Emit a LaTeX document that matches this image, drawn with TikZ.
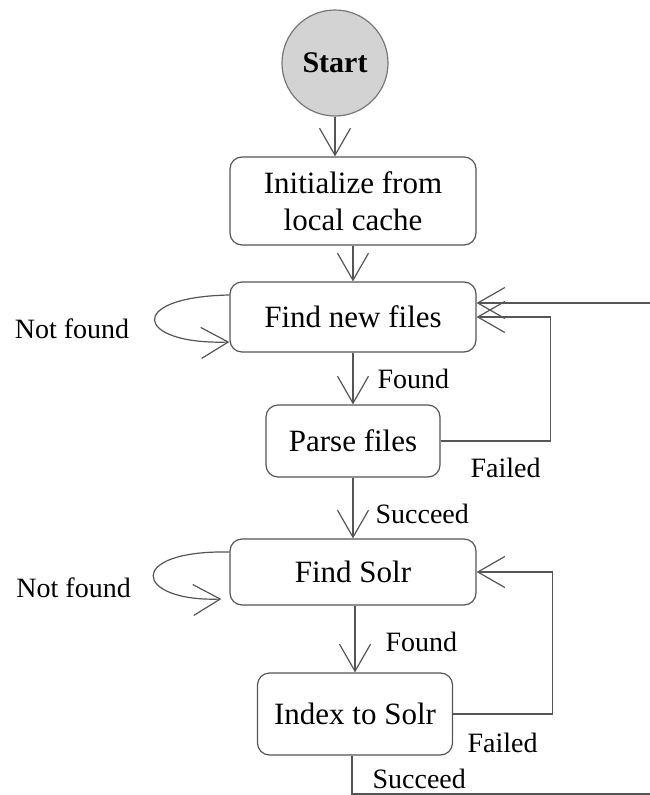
\documentclass[tikz,border=0pt]{standalone}
\usepackage{fontspec}
\setmainfont{Liberation Serif}
\usepackage{tikz}
\usetikzlibrary{arrows.meta,positioning,calc}
\definecolor{FlowLine}{HTML}{555555}
\definecolor{StartFill}{HTML}{D3D3D3}

\begin{document}
\begin{tikzpicture}[
  x=1pt, y=-1pt,
  box/.style={draw=FlowLine, rounded corners=12pt, align=center, line width=1.2pt,
              font=\fontsize{31}{37}\selectfont},
  startnode/.style={circle, draw=FlowLine!80, fill=StartFill, line width=1.2pt,
              minimum size=106pt, font=\fontsize{30}{36}\selectfont\bfseries},
  lbl/.style={inner sep=0pt, font=\fontsize{28}{32}\selectfont},
  arrow/.style={-{Straight Barb[length=27pt,width=31pt]}, draw=FlowLine, line width=1.2pt},
  line/.style={draw=FlowLine, line width=1.2pt}
]
\useasboundingbox (0,0) rectangle (650,795);

\node[startnode] (start) at (335,63) {Start};
\node[box, minimum width=246pt, minimum height=88pt] (init) at (353,201) {Initialize from\\local cache};
\node[box, minimum width=246pt, minimum height=70pt] (findnew) at (353,317) {Find new files};
\node[box, minimum width=174pt, minimum height=72pt] (parse) at (353,441) {Parse files};
\node[box, minimum width=246pt, minimum height=66pt] (findsolr) at (353,572) {Find Solr};
\node[box, minimum width=195pt, minimum height=82pt] (index) at (355,714) {Index to Solr};

\coordinate (entry) at (650,303);
\coordinate (exit) at (650,794);

% main flow
\draw[arrow] (start.south) -- (start.south |- init.north);
\draw[arrow] (init) -- (findnew);
\draw[arrow] (findnew) -- node[lbl, right=24pt] {Found} (parse);
\draw[arrow] (parse) -- node[lbl, right=22pt, pos=0.6] {Succeed} (findsolr);
\draw[arrow] ([xshift=2pt]findsolr.south) -- node[lbl, right=30pt, pos=0.55] {Found} ([xshift=2pt]findsolr.south |- index.north);
\draw[line] ([xshift=-3pt]index.south) -- node[lbl, right=20pt, pos=0.6] {Succeed} ([xshift=-3pt]index.south |- exit) -- (exit);

% retries
\draw[arrow] (parse.east) -- node[lbl, below=16pt, pos=0.59] {Failed} ++(110,0) |- (findnew.east);
\draw[arrow] (index.east) -- node[lbl, below=18pt, pos=0.5] {Failed} ++(99,0) |- (findsolr.east);
\draw[arrow] (entry) -- (entry -| findnew.east);

% self loops
\draw[arrow] ([yshift=22pt]findnew.west) .. controls +(-105,2) and +(-94,3) .. node[lbl, left=25pt, yshift=-8pt] {Not found} ([yshift=-25pt]findnew.west);
\draw[arrow] ([yshift=20pt]findsolr.west) .. controls +(-105,-2) and +(-87,3) .. node[lbl, left=22pt, yshift=-12pt] {Not found} ([xshift=-8pt,yshift=-27pt]findsolr.west);
\end{tikzpicture}
\end{document}
